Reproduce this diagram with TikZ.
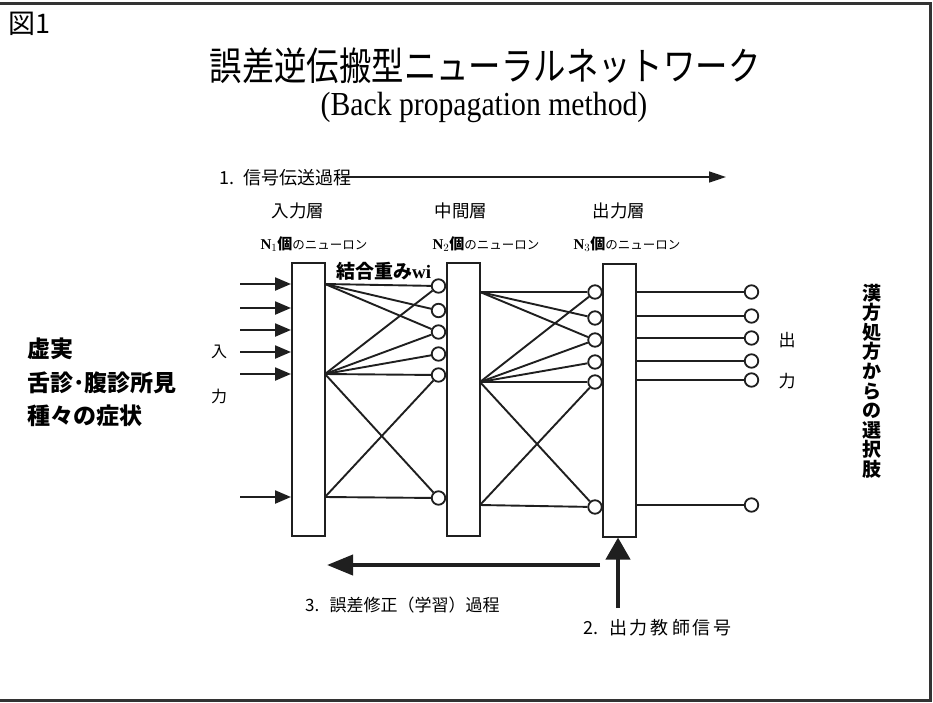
\documentclass[tikz,border=0pt]{standalone}
\usepackage{fontspec}
\usepackage{graphicx}
\setmainfont{Liberation Serif}
\newfontfamily\jp{Noto Sans CJK JP}
\usetikzlibrary{arrows.meta}
\begin{document}
\begin{tikzpicture}[x=1pt,y=-1pt,
  ink/.style={draw=black!88},
  net/.style={ink, line width=1.9pt},
  layerbox/.style={ink, line width=2pt, minimum width=33pt, minimum height=273pt, inner sep=0pt},
  neuron/.style={circle, ink, line width=1.8pt, minimum size=13.5pt, inner sep=0pt, fill=white},
  inarrow/.style={ink, line width=2.2pt, -{Triangle[length=16pt,width=13pt]}},
  thick arrow/.style={ink, line width=4pt},
  lbl/.style={inner sep=0pt, font=\jp\fontsize{17}{17}\selectfont},
  nlbl/.style={inner sep=0pt},
  side/.style={inner sep=0pt, font=\jp\bfseries\fontsize{23}{33.5}\selectfont, align=left}
]
\useasboundingbox (0,0) rectangle (933,702);
% frame
\draw[draw=black!80, line width=3pt] (0,3) -- (930,3) -- (930,700) -- (0,700);

% header
\node[anchor=west, inner sep=0pt, font=\jp\fontsize{27}{27}\selectfont] (fig) at (8,24) {図1};
\node[inner sep=0pt] (title) at (485,66) {\scalebox{0.9}[1.08]{\jp\fontsize{36}{36}\selectfont 誤差逆伝搬型ニューラルネットワーク}};
\node[inner sep=0pt] (sub) at (484,107) {\scalebox{0.99}[1.12]{\fontsize{30}{30}\selectfont (Back propagation method)}};

% signal transfer
\node[lbl, anchor=west, font=\jp\fontsize{18}{18}\selectfont] (step1) at (219,178) {1.\hspace{0.5em}信号伝送過程};
\coordinate (t0) at (342,177);
\coordinate (t1) at (726,177);
\draw[ink, line width=1.6pt, -{Triangle[length=17pt,width=11pt]}] (t0) -- (t1);

% layer labels
\node[lbl, font=\jp\fontsize{17.5}{17.5}\selectfont] (h1) at (298,211) {入力層};
\node[lbl, font=\jp\fontsize{17.5}{17.5}\selectfont] (h2) at (461,211) {中間層};
\node[lbl, font=\jp\fontsize{17.5}{17.5}\selectfont] (h3) at (619,211) {出力層};
\node[nlbl] (n1) at (314,244) {{\bfseries\fontsize{15}{15}\selectfont N$_1$}{\jp\bfseries\fontsize{15}{15}\selectfont 個}{\jp\fontsize{12.5}{12.5}\selectfont のニューロン}};
\node[nlbl] (n2) at (486,244) {{\bfseries\fontsize{15}{15}\selectfont N$_2$}{\jp\bfseries\fontsize{15}{15}\selectfont 個}{\jp\fontsize{12.5}{12.5}\selectfont のニューロン}};
\node[nlbl] (n3) at (627,244) {{\bfseries\fontsize{15}{15}\selectfont N$_3$}{\jp\bfseries\fontsize{15}{15}\selectfont 個}{\jp\fontsize{12.5}{12.5}\selectfont のニューロン}};

% layer boxes
\node[layerbox] (L1) at (308.5,399.5) {};
\node[layerbox] (L2) at (463.5,399.5) {};
\node[layerbox] (L3) at (619.5,400) {};

\node[anchor=west, inner sep=0pt, font=\jp\bfseries\fontsize{19}{19}\selectfont] (w) at (336,271) {結合重み{\rmfamily\bfseries wi}};

% neurons
\foreach \i/\y in {1/286,2/310.5,3/332,4/354,5/375,6/498}
  \node[neuron] (m\i) at (438.5,\y) {};
\foreach \i/\y in {1/292,2/318,3/340,4/362,5/382,6/507}
  \node[neuron] (o\i) at (595,\y) {};
\foreach \i/\y in {1/292,2/316,3/338,4/361,5/380,6/505}
  \node[neuron] (f\i) at (751.5,\y) {};

% connection points
\coordinate (a1) at (325,284);
\coordinate (a2) at (325,374);
\coordinate (a3) at (325,497);
\coordinate (b1) at (480,292);
\coordinate (b2) at (480,382);
\coordinate (b3) at (480,505);

% input -> hidden
\foreach \t in {m1,m2,m3} \draw[net] (a1) -- (\t);
\foreach \t in {m1,m3,m4,m5,m6} \draw[net] (a2) -- (\t);
\foreach \t in {m5,m6} \draw[net] (a3) -- (\t);
% hidden -> output
\foreach \t in {o1,o2,o3} \draw[net] (b1) -- (\t);
\foreach \t in {o1,o3,o4,o5,o6} \draw[net] (b2) -- (\t);
\foreach \t in {o5,o6} \draw[net] (b3) -- (\t);
% outputs
\foreach \i in {1,...,6} \draw[net] (f\i -| L3.east) -- (f\i);

% input arrows
\foreach \i/\y in {1/284,2/308,3/330,4/352,5/374,6/497} {
  \coordinate (s\i) at (240,\y);
  \draw[inarrow] (s\i) -- (s\i -| L1.west);
}

% side labels
\node[lbl, font=\jp\fontsize{16}{16}\selectfont] (in1) at (219,352) {入};
\node[lbl, font=\jp\fontsize{16}{16}\selectfont] (in2) at (219,396) {力};
\node[lbl] (out1) at (787,340) {出};
\node[lbl] (out2) at (787,381) {力};

\node[side, anchor=north west] (left) at (27,338) {虚実\\舌診･腹診所見\\種々の症状};
\node[inner sep=0pt, align=center, font=\jp\bfseries\fontsize{19}{19.6}\selectfont] (right) at (872,381) {漢\\方\\処\\方\\か\\ら\\の\\選\\択\\肢};

% back propagation
\coordinate (e0) at (600,565);
\coordinate (e1) at (327,565);
\draw[thick arrow, -{Triangle[length=26pt,width=20pt]}] (e0) -- (e1);
\coordinate (u0) at (618,608);
\draw[thick arrow, -{Triangle[length=22pt,width=24pt]}] (u0) -- (u0 |- L3.south);

\node[lbl, anchor=west] (step3) at (305,605) {3.\hspace{0.6em}誤差修正（学習）過程};
\node[lbl, anchor=west, font=\jp\fontsize{18}{18}\selectfont] (step2) at (583,628) {2.\hspace{0.6em}出\,力\,教\,師\,信\,号};
\end{tikzpicture}
\end{document}
